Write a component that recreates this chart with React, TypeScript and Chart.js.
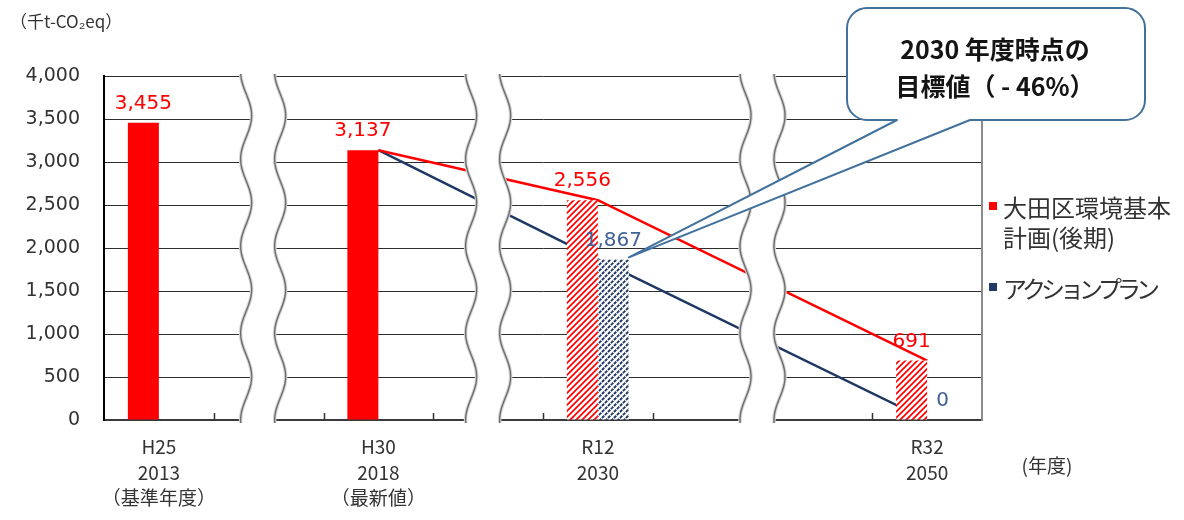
import React, { useEffect, useRef } from 'react';
import { Chart, registerables } from 'chart.js';

Chart.register(...registerables);

// ---------- data ----------
const categories: (string | string[])[] = [
  ['H25', '2013', '（基準年度）'],
  '',
  ['H30', '2018', '（最新値）'],
  '',
  ['R12', '2030'],
  '',
  '',
  ['R32', '2050'],
];
const planValues: (number | null)[] = [3455, null, 3137, null, 2556, null, null, 691];
const actionValues: (number | null)[] = [null, null, null, null, 1867, null, null, 0];
const planTrend: (number | null)[] = [null, null, 3137, null, 2556, null, null, 691];
const actionTrend: (number | null)[] = [null, null, 3137, null, 1867, null, null, 0];
const targetFlags: boolean[] = [false, false, false, false, true, false, false, true];
const seriesNames = ['大田区環境基本計画(後期)', 'アクションプラン'];
const legendLines: string[][] = [['大田区環境基本', '計画(後期)'], ['アクションプラン']];
const yMin = 0;
const yMax = 4000;
const yStep = 500;
const breakPositions = [0.95, 3, 5.5];
const unitLabel = '（千t-CO₂eq）';
const yearUnitLabel = '(年度)';
const calloutLines = ['2030 年度時点の', '目標値（ - 46%）'];
const calloutTarget = { series: 1, index: 4 };

// ---------- styles ----------
const RED = '#FF0000';
const NAVY = '#1F3864';
const LABEL_BLUE = '#3F6198';
const CJK = "'Noto Sans CJK JP', sans-serif";
const NUM = "'DejaVu Sans', sans-serif";
const TEXT = '#333333';

function makeHatch(color: string, dotted: boolean): CanvasPattern | string {
  const s = 6;
  const c = document.createElement('canvas');
  c.width = s;
  c.height = s;
  const g = c.getContext('2d');
  if (!g) return color;
  g.fillStyle = '#ffffff';
  g.fillRect(0, 0, s, s);
  g.strokeStyle = color;
  g.lineWidth = dotted ? 1.9 : 1.7;
  if (dotted) g.setLineDash([3.2, 1]);
  g.beginPath();
  g.moveTo(-1, s + 1);
  g.lineTo(s + 1, -1);
  g.moveTo(-1, 1);
  g.lineTo(1, -1);
  g.moveTo(s - 1, s + 1);
  g.lineTo(s + 1, s - 1);
  g.stroke();
  return g.createPattern(c, 'repeat') || color;
}

const decorPlugin = {
  id: 'decor',
  afterDatasetsDraw(chart: any) {
    const { ctx, chartArea: a, scales } = chart;
    const x = scales.x;
    ctx.save();

    // inward tick marks at category boundaries
    ctx.strokeStyle = '#333';
    ctx.lineWidth = 1.5;
    for (let i = 0; i < categories.length - 1; i++) {
      const px = Math.round((x.getPixelForValue(i) + x.getPixelForValue(i + 1)) / 2) + 0.5;
      ctx.beginPath();
      ctx.moveTo(px, a.bottom);
      ctx.lineTo(px, a.bottom - 7);
      ctx.stroke();
    }

    // right border of the plot
    ctx.strokeStyle = '#8c8c8c';
    ctx.lineWidth = 2;
    ctx.beginPath();
    ctx.moveTo(a.right, a.top);
    ctx.lineTo(a.right, a.bottom + 1);
    ctx.stroke();

    // wavy axis breaks
    const period = 87;
    const amp = 5.5;
    const gap = 34;
    for (const b of breakPositions) {
      const cx = x.getPixelForValue(b);
      const edge = (yy: number) => cx - gap / 2 - amp * Math.cos((2 * Math.PI * (a.bottom - yy)) / period);
      const top = a.top - 2;
      const bot = a.bottom + 3;
      ctx.beginPath();
      for (let yy = top; yy <= bot; yy += 1) ctx.lineTo(edge(yy), yy);
      for (let yy = bot; yy >= top; yy -= 1) ctx.lineTo(edge(yy) + gap, yy);
      ctx.closePath();
      ctx.fillStyle = '#ffffff';
      ctx.fill();
      for (const off of [0, gap]) {
        ctx.beginPath();
        for (let yy = top; yy <= bot; yy += 1) ctx.lineTo(edge(yy) + off, yy);
        ctx.strokeStyle = '#d4d4d4';
        ctx.lineWidth = 3.5;
        ctx.stroke();
        ctx.strokeStyle = '#6e6e6e';
        ctx.lineWidth = 1.4;
        ctx.stroke();
      }
    }

    // value labels above bars
    ctx.font = `20px ${NUM}`;
    ctx.textAlign = 'center';
    ctx.textBaseline = 'middle';
    const labelColors = [RED, LABEL_BLUE];
    [0, 1].forEach((di) => {
      const meta = chart.getDatasetMeta(di);
      const vals = chart.data.datasets[di].data as (number | null)[];
      meta.data.forEach((el: any, i: number) => {
        const v = vals[i];
        if (v === null || v === undefined) return;
        ctx.fillStyle = labelColors[di];
        ctx.fillText(v.toLocaleString('en-US'), el.x, el.y - 19);
      });
    });

    // callout
    const tipEl: any = chart.getDatasetMeta(calloutTarget.series).data[calloutTarget.index];
    const tipX = tipEl.x + tipEl.width / 2;
    const tipY = tipEl.y - 2;
    const x0 = 847, y0 = 8, x1 = 1145, y1 = 120, r = 20;
    const t0 = 897, t1 = 970;
    ctx.beginPath();
    ctx.moveTo(x0 + r, y0);
    ctx.lineTo(x1 - r, y0);
    ctx.arcTo(x1, y0, x1, y0 + r, r);
    ctx.lineTo(x1, y1 - r);
    ctx.arcTo(x1, y1, x1 - r, y1, r);
    ctx.lineTo(t1, y1);
    ctx.lineTo(tipX, tipY);
    ctx.lineTo(t0, y1);
    ctx.lineTo(x0 + r, y1);
    ctx.arcTo(x0, y1, x0, y1 - r, r);
    ctx.lineTo(x0, y0 + r);
    ctx.arcTo(x0, y0, x0 + r, y0, r);
    ctx.closePath();
    ctx.fillStyle = '#ffffff';
    ctx.fill();
    ctx.strokeStyle = '#41719C';
    ctx.lineWidth = 2;
    ctx.lineJoin = 'round';
    ctx.stroke();
    ctx.fillStyle = '#141414';
    ctx.font = `600 25px ${CJK}`;
    ctx.textAlign = 'center';
    ctx.textBaseline = 'middle';
    ctx.fillText(calloutLines[0], 995, 49);
    ctx.fillText(calloutLines[1], 995, 86);

    // legend
    const legendColors = [RED, NAVY];
    const legendY = [[208, 238], [289]];
    ctx.font = `24px ${CJK}`;
    ctx.textAlign = 'left';
    ctx.textBaseline = 'middle';
    legendLines.forEach((lines, li) => {
      ctx.fillStyle = legendColors[li];
      ctx.fillRect(989, legendY[li][0] - 6, 8, 8);
      lines.forEach((ln, k) => {
        ctx.fillStyle = TEXT;
        const kana = /[\u30A0-\u30FF]/.test(ln);
        (ctx as any).letterSpacing = kana ? '-5px' : '0px';
        ctx.fillText(ln, 1003, legendY[li][k]);
      });
    });
    (ctx as any).letterSpacing = '0px';

    // unit labels
    ctx.fillStyle = TEXT;
    ctx.font = `17px ${CJK}`;
    ctx.textAlign = 'left';
    ctx.fillText(unitLabel, 10, 22);
    ctx.font = `19px ${CJK}`;
    ctx.textAlign = 'center';
    ctx.fillText(yearUnitLabel, 1047, 466);

    ctx.restore();
  },
};

export default function App() {
  const ref = useRef<HTMLCanvasElement | null>(null);

  useEffect(() => {
    const canvas = ref.current;
    if (!canvas) return;
    const redHatch = makeHatch(RED, false);
    const blueHatch = makeHatch(NAVY, true);

    const chart = new Chart(canvas, {
      type: 'bar',
      data: {
        labels: categories,
        datasets: [
          {
            type: 'bar',
            label: seriesNames[0],
            data: planValues,
            backgroundColor: planValues.map((_, i) => (targetFlags[i] ? redHatch : RED)),
            borderWidth: 0,
            categoryPercentage: 0.565,
            barPercentage: 1,
            order: 0,
          },
          {
            type: 'bar',
            label: seriesNames[1],
            data: actionValues,
            backgroundColor: actionValues.map((_, i) => (targetFlags[i] ? blueHatch : NAVY)),
            borderWidth: 0,
            categoryPercentage: 0.565,
            barPercentage: 1,
            order: 0,
          },
          {
            type: 'line',
            label: seriesNames[0] + ' 推移',
            data: planTrend,
            borderColor: RED,
            borderWidth: 2.5,
            pointRadius: 0,
            spanGaps: true,
            tension: 0,
            order: 1,
          },
          {
            type: 'line',
            label: seriesNames[1] + ' 推移',
            data: actionTrend,
            borderColor: NAVY,
            borderWidth: 2.5,
            pointRadius: 0,
            spanGaps: true,
            tension: 0,
            order: 1,
          },
        ] as any,
      },
      plugins: [decorPlugin],
      options: {
        animation: false,
        responsive: true,
        maintainAspectRatio: false,
        layout: { padding: { top: 76, right: 202, left: 0, bottom: 0 } },
        plugins: {
          legend: { display: false },
          tooltip: { enabled: false },
        },
        scales: {
          x: {
            type: 'category',
            grid: { display: false, drawTicks: false },
            border: { display: true, color: '#3a3a3a', width: 2 },
            ticks: {
              autoSkip: false,
              maxRotation: 0,
              minRotation: 0,
              padding: 14,
              color: TEXT,
              font: { family: CJK, size: 19, lineHeight: 1.35 },
            },
            afterFit: (s: any) => {
              s.height = 100;
            },
          },
          y: {
            min: yMin,
            max: yMax,
            grid: { color: '#2e2e2e', lineWidth: 1, drawTicks: false },
            border: { display: true, color: '#000000', width: 2 },
            ticks: {
              stepSize: yStep,
              padding: 24,
              color: TEXT,
              font: { family: NUM, size: 19 },
              callback: (v: any) => Number(v).toLocaleString('en-US'),
            },
            afterFit: (s: any) => {
              s.width = 104;
            },
          },
        },
      } as any,
    });
    return () => chart.destroy();
  }, []);

  return (
    <div style={{ position: 'fixed', left: 0, top: 0, width: 1184, height: 520, background: '#fff' }}>
      <canvas ref={ref} />
    </div>
  );
}
